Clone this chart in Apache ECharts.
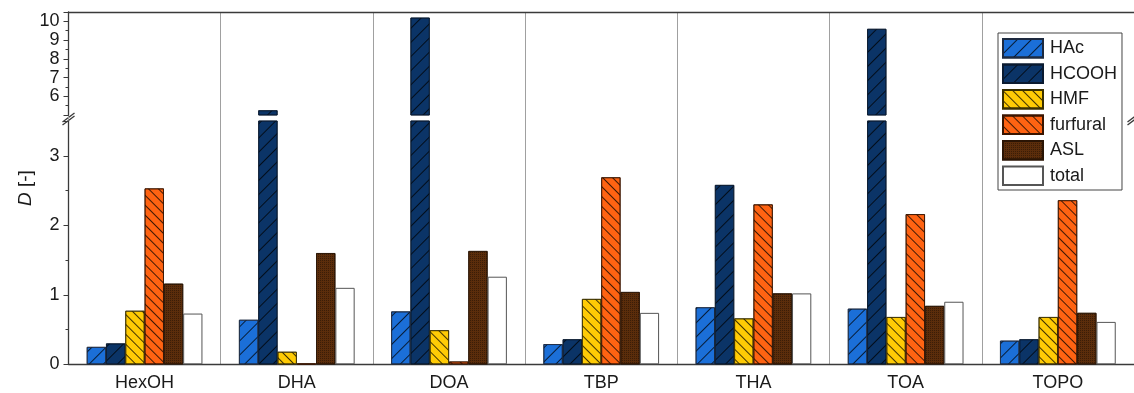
<!DOCTYPE html>
<html>
<head>
<meta charset="utf-8">
<script src="https://cdn.jsdelivr.net/npm/echarts@6/dist/echarts.min.js"></script>
<style>
  html, body { margin: 0; padding: 0; background: #fff; }
  #chart { width: 1134px; height: 393px; }
</style>
</head>
<body>
<div id="chart"></div>
<script>
// Distribution coefficients D of each compound for the different extractants
const categories = ['HexOH', 'DHA', 'DOA', 'TBP', 'THA', 'TOA', 'TOPO'];
const hac      = [0.25, 0.64, 0.76, 0.29, 0.82, 0.80, 0.34];
const hcooh    = [0.30, 5.25, 10.2, 0.36, 2.58, 9.6, 0.36];
const hmf      = [0.77, 0.18, 0.49, 0.94, 0.66, 0.68, 0.68];
const furfural = [2.53, 0.01, 0.04, 2.69, 2.30, 2.16, 2.36];
const asl      = [1.16, 1.60, 1.63, 1.04, 1.02, 0.84, 0.74];
const total    = [0.73, 1.10, 1.26, 0.74, 1.02, 0.90, 0.61];

const seriesNames = ['HAc', 'HCOOH', 'HMF', 'furfural', 'ASL', 'total'];
const seriesValues = [hac, hcooh, hmf, furfural, asl, total];

// broken value axis: lower segment 0..3.5, upper segment 5..10.5
const lowerTickLabels = [0, 1, 2, 3];
const upperTickLabels = [6, 7, 8, 9, 10];
const lowerMax = 3.5;
const upperMin = 5;
const upperMax = 10.5;

// layout
const L = 68.5, W = 1069;
const upTop = 12, upH = 103;
const lowTop = 121, lowBottom = 364.3;
const lowH = lowBottom - lowTop;

const FONT = '"Liberation Sans", Arial, sans-serif';
const AXIS_COLOR = '#3a3a3a';

function hatch(rot, gap) {
  return {
    symbol: 'rect',
    symbolSize: 1,
    color: 'rgba(0,0,0,0.75)',
    dashArrayX: [1, 0],
    dashArrayY: [1, gap],
    rotation: rot
  };
}

const styles = [
  { color: '#1b6fd8', borderColor: '#1d2a40', borderWidth: 0.8, decal: hatch(-Math.PI / 4, 9) },
  { color: '#0b3467', borderColor: '#0a1a30', borderWidth: 0.8, decal: hatch(-Math.PI / 4, 9) },
  { color: '#ffcb05', borderColor: '#3a3000', borderWidth: 0.8, decal: hatch(Math.PI / 4, 6) },
  { color: '#ff6312', borderColor: '#3a1500', borderWidth: 0.8, decal: hatch(Math.PI / 4, 6) },
  { color: '#5b2d0b', borderColor: '#2a1404', borderWidth: 0.8,
    decal: { symbol: 'rect', symbolSize: 1, color: 'rgba(0,0,0,0.35)', dashArrayX: [1, 1], dashArrayY: [1, 1] } },
  { color: '#ffffff', borderColor: '#555555', borderWidth: 1 }
];

const series = [];
seriesNames.forEach((name, i) => {
  // upper segment: only values above the break
  series.push({
    name, type: 'bar', xAxisIndex: 1, yAxisIndex: 1,
    barGap: '0%', barCategoryGap: '24%',
    data: seriesValues[i].map(v => (v > upperMin ? v : '-')),
    itemStyle: styles[i]
  });
});
seriesNames.forEach((name, i) => {
  series.push({
    name, type: 'bar', xAxisIndex: 2, yAxisIndex: 2,
    barGap: '0%', barCategoryGap: '24%',
    data: seriesValues[i],
    itemStyle: styles[i]
  });
});

const intFmt = allowed => v => (allowed.indexOf(v) >= 0 ? String(v) : '');

// short slanted strokes marking the break on an axis at x
function breakMarks(x) {
  const yA = upTop + upH, yB = lowTop;
  return [
    { type: 'line', shape: { x1: x - 6, y1: yA + 7, x2: x + 6, y2: yA - 2 },
      style: { stroke: AXIS_COLOR, lineWidth: 1.3 } },
    { type: 'line', shape: { x1: x - 6, y1: yB + 4, x2: x + 6, y2: yB - 5 },
      style: { stroke: AXIS_COLOR, lineWidth: 1.3 } }
  ];
}

const option = {
  animation: false,
  backgroundColor: '#fff',
  textStyle: { fontFamily: FONT },
  grid: [
    { left: L, width: W, top: upTop, height: lowBottom - upTop },
    { left: L, width: W, top: upTop, height: upH },
    { left: L, width: W, top: lowTop, height: lowH }
  ],
  xAxis: [
    {
      gridIndex: 0, type: 'category', data: categories, boundaryGap: true,
      axisLine: { show: false }, axisTick: { show: false }, axisLabel: { show: false },
      splitLine: { show: true, lineStyle: { color: '#a0a0a0', width: 1 } }
    },
    {
      gridIndex: 1, type: 'category', data: categories, position: 'top', boundaryGap: true,
      axisLine: { show: true, lineStyle: { color: AXIS_COLOR, width: 1.3 } },
      axisTick: { show: false }, axisLabel: { show: false }, splitLine: { show: false }
    },
    {
      gridIndex: 2, type: 'category', data: categories, boundaryGap: true,
      axisLine: { show: true, lineStyle: { color: AXIS_COLOR, width: 1.3 } },
      axisTick: { show: false },
      axisLabel: { color: '#1a1a1a', fontSize: 18, fontFamily: FONT, margin: 10 },
      splitLine: { show: false }
    }
  ],
  yAxis: [
    {
      gridIndex: 0, type: 'value', min: 0, max: 1,
      axisLine: { show: false }, axisTick: { show: false }, axisLabel: { show: false },
      splitLine: { show: false },
      name: '{i|D} [-]', nameLocation: 'middle', nameGap: 33,
      nameTextStyle: {
        color: '#1a1a1a', fontSize: 19, fontFamily: FONT,
        rich: { i: { fontStyle: 'italic', fontSize: 19, fontFamily: FONT, color: '#1a1a1a' } }
      }
    },
    {
      gridIndex: 1, type: 'value', min: upperMin, max: upperMax, interval: 1,
      axisLine: { show: true, lineStyle: { color: AXIS_COLOR, width: 1.3 } },
      axisTick: { show: true, inside: false, length: 5, lineStyle: { color: AXIS_COLOR } },
      minorTick: { show: true, splitNumber: 2, length: 3, lineStyle: { color: AXIS_COLOR } },
      axisLabel: { color: '#1a1a1a', fontSize: 18, fontFamily: FONT, margin: 9, formatter: intFmt(upperTickLabels) },
      splitLine: { show: false }
    },
    {
      gridIndex: 2, type: 'value', min: 0, max: lowerMax, interval: 1,
      axisLine: { show: true, lineStyle: { color: AXIS_COLOR, width: 1.3 } },
      axisTick: { show: true, inside: false, length: 5, lineStyle: { color: AXIS_COLOR } },
      minorTick: { show: true, splitNumber: 2, length: 3, lineStyle: { color: AXIS_COLOR } },
      axisLabel: { color: '#1a1a1a', fontSize: 18, fontFamily: FONT, margin: 9, formatter: intFmt(lowerTickLabels) },
      splitLine: { show: false }
    }
  ],
  legend: {
    data: seriesNames,
    orient: 'vertical',
    left: 998, top: 33,
    padding: [5, 5, 4, 4],
    itemWidth: 40, itemHeight: 18.5, itemGap: 5,
    icon: 'rect',
    borderColor: '#444', borderWidth: 1,
    backgroundColor: '#fff',
    textStyle: { color: '#1a1a1a', fontSize: 18, fontFamily: FONT, padding: [0, 0, 0, 2] },
    selectedMode: false
  },
  graphic: breakMarks(L).concat(breakMarks(L + W - 4)),
  series
};

const chart = echarts.init(document.getElementById('chart'), null, { renderer: 'canvas' });
chart.setOption(option);
</script>
</body>
</html>
